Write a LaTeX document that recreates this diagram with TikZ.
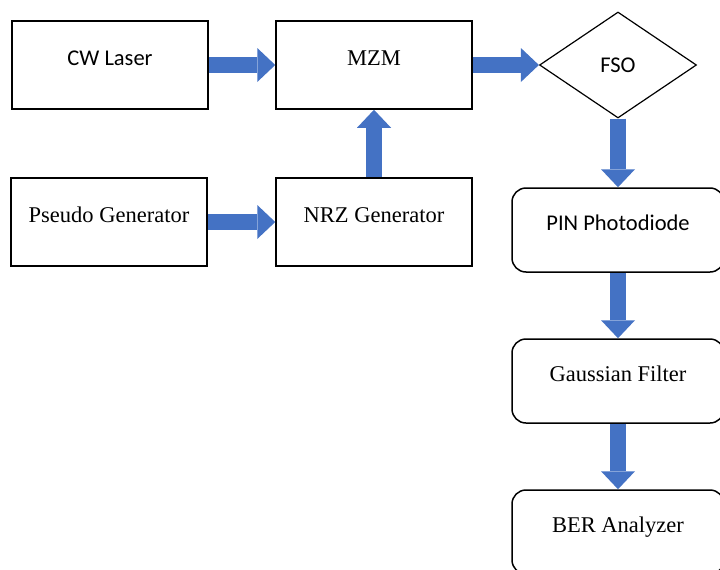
\documentclass[tikz,border=0pt]{standalone}
\usepackage{fontspec}
\setmainfont{Liberation Serif}
\newfontfamily\calibri{Carlito}
\usetikzlibrary{shapes.geometric,arrows.meta}

\definecolor{arrowblue}{RGB}{68,114,196}

\tikzset{
  blk/.style={draw, line width=1.5pt, minimum width=196pt, minimum height=88pt, inner sep=0pt,
    text height=12pt, text depth=12pt, font=\fontsize{22.5}{27}\selectfont},
  rblk/.style={blk, rounded corners=14pt, minimum width=212pt, minimum height=84pt},
  sans/.style={font=\calibri\fontsize{22.5}{27}\selectfont},
  flow/.style={draw=arrowblue, line width=16pt, -{Triangle[width=34pt,length=18pt,line width=0pt,fill=arrowblue]}}
}

\begin{document}
\begin{tikzpicture}[x=1pt,y=-1pt]
        \useasboundingbox (0,0) rectangle (720,570);
        \clip (0,0) rectangle (720,570);
        % transmitter side
        \node[blk,sans](laser) at (110,65) {CW Laser};
        \node[blk](mzm) at (374,65) {MZM};
        \node[blk](pseudo) at (109,222) {Pseudo Generator};
        \node[blk](nrz) at (374,222) {NRZ Generator};
        \node[draw,shape=diamond,line width=1.2pt,inner sep=0pt,minimum width=157pt,minimum height=106pt,sans](fso) at (618,65) {FSO};
        % receiver side
        \node[rblk,sans](pin) at (618,230) {PIN Photodiode};
        \node[rblk](gauss) at (618,381) {Gaussian Filter};
        \node[rblk](ber) at (618,532) {BER Analyzer};

        \draw[flow] (laser) -- (mzm);
        \draw[flow] (mzm) -- (fso);
        \draw[flow] (pseudo) -- (nrz);
        \draw[flow] (nrz) -- (mzm);
        \draw[flow] (fso) -- (pin);
        \draw[flow] (pin) -- (gauss);
        \draw[flow] (gauss) -- (ber);
\end{tikzpicture}
\end{document}
